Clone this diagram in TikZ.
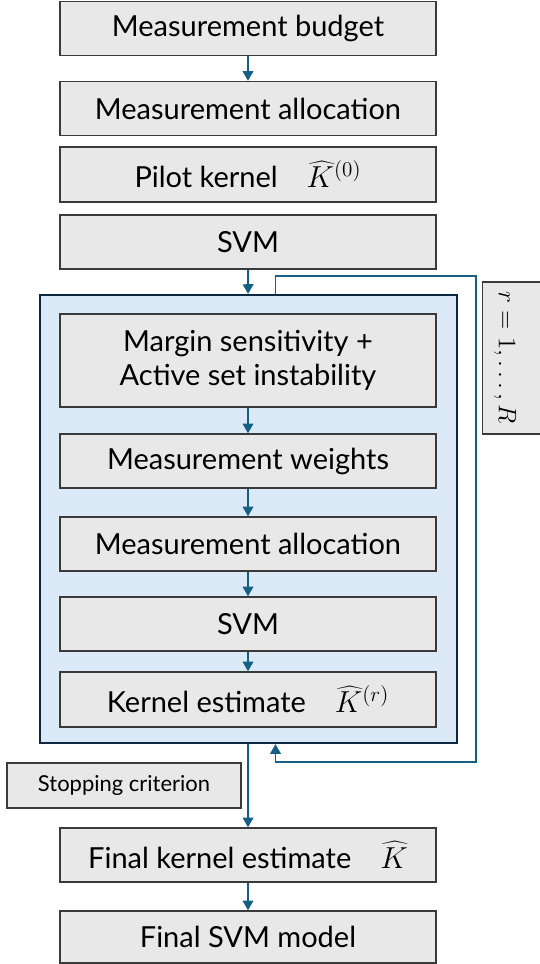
\documentclass[tikz,border=0pt]{standalone}
\usepackage{fontspec}
\setmainfont{Lato}
\usetikzlibrary{arrows.meta,positioning}
\definecolor{boxfill}{HTML}{E8E8E8}
\definecolor{boxline}{HTML}{3A3A3A}
\definecolor{loopfill}{HTML}{DCE9F7}
\definecolor{loopline}{HTML}{0E2841}
\definecolor{arrowc}{HTML}{156082}

\begin{document}
\begin{tikzpicture}[
  x=0.02cm, y=-0.02cm,
  >={Triangle[length=5.5pt, width=6pt]},
  box/.style={draw=boxline, line width=0.8pt, fill=boxfill, align=center,
              inner sep=0pt, font=\fontsize{16.5}{19}\selectfont,
              minimum width=7.52cm, minimum height=1.08cm},
  tall/.style={box, minimum height=1.86cm},
  small/.style={box, font=\fontsize{12.5}{14}\selectfont,
                minimum width=4.68cm, minimum height=0.9cm},
  loopbox/.style={draw=loopline, line width=1.3pt, fill=loopfill,
                  minimum width=8.34cm, minimum height=8.96cm, inner sep=0pt},
  ar/.style={draw=arrowc, line width=1.1pt, ->},
]
\useasboundingbox (0,0) rectangle (539,964);

\node[box] (budget) at (248,28.5) {Measurement budget};
\node[box] (alloc0) at (248,108.5) {Measurement allocation};
\node[box, minimum height=1.1cm] (pilot) at (248,174.5) {Pilot kernel\quad$\widehat{K}^{(0)}$};
\node[box] (svm0) at (248,242) {SVM};

\node[loopbox] (loop) at (248.5,519) {};
\node[tall] (margin) at (248,360.5) {Margin sensitivity +\\ Active set instability};
\node[box] (weights) at (248,461) {Measurement weights};
\node[box] (alloc) at (248,544) {Measurement allocation};
\node[box] (svm) at (248,624) {SVM};
\node[box, minimum height=1.1cm] (kernel) at (248,699.5) {Kernel estimate\quad$\widehat{K}^{(r)}$};

\node[box, minimum width=1.54cm, minimum height=3.04cm] (iterbox) at (521,358) {};
\node[rotate=-90, font=\fontsize{15}{17}\selectfont] (iter) at (505,358) {$r=1,\ldots,R$};

\node[small] (stop) at (124,785.5) {Stopping criterion};
\node[box] (final) at (248,855) {Final kernel estimate\quad$\widehat{K}$};
\node[box, minimum height=1.04cm] (model) at (248,937) {Final SVM model};

\coordinate (tap) at (275.5,0);
\coordinate (ne) at (476,276);
\coordinate (se) at (476,762);

\draw[ar] (budget) -- (alloc0);
\draw[ar] (svm0) -- (loop);
\draw[ar] (margin) -- (weights);
\draw[ar] (weights) -- (alloc);
\draw[ar] (alloc) -- (svm);
\draw[ar] (svm) -- (kernel);
\draw[ar] (loop.north -| tap) |- (ne) -- (se) -| (loop.south -| tap);
\draw[ar] (loop) -- (final);
\draw[ar] (final) -- (model);
\end{tikzpicture}
\end{document}
